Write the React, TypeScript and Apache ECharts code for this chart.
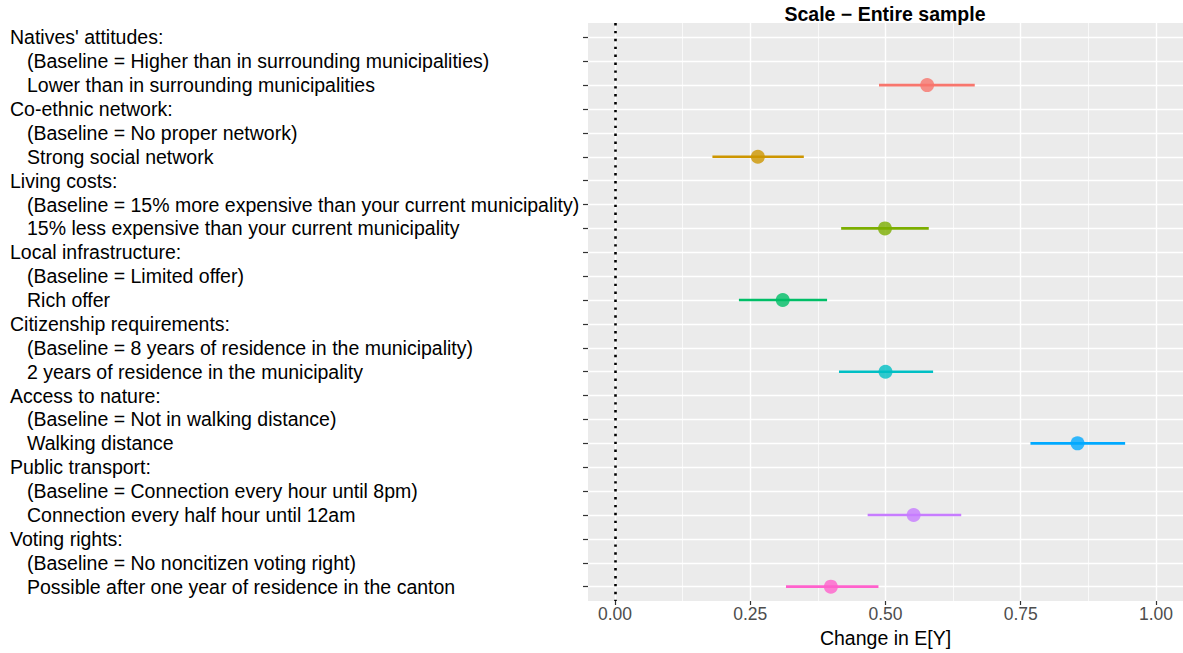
import React, { useEffect, useRef } from "react";
import * as echarts from "echarts";

const rowLabels: string[] = [
  "Natives' attitudes:",
  "(Baseline = Higher than in surrounding municipalities)",
  "Lower than in surrounding municipalities",
  "Co-ethnic network:",
  "(Baseline = No proper network)",
  "Strong social network",
  "Living costs:",
  "(Baseline = 15% more expensive than your current municipality)",
  "15% less expensive than your current municipality",
  "Local infrastructure:",
  "(Baseline = Limited offer)",
  "Rich offer",
  "Citizenship requirements:",
  "(Baseline = 8 years of residence in the municipality)",
  "2 years of residence in the municipality",
  "Access to nature:",
  "(Baseline = Not in walking distance)",
  "Walking distance",
  "Public transport:",
  "(Baseline = Connection every hour until 8pm)",
  "Connection every half hour until 12am",
  "Voting rights:",
  "(Baseline = No noncitizen voting right)",
  "Possible after one year of residence in the canton",
];

const headerLabels: string[] = [
  "Natives' attitudes:",
  "Co-ethnic network:",
  "Living costs:",
  "Local infrastructure:",
  "Citizenship requirements:",
  "Access to nature:",
  "Public transport:",
  "Voting rights:",
];

const effectLabels: string[] = [
  "Lower than in surrounding municipalities",
  "Strong social network",
  "15% less expensive than your current municipality",
  "Rich offer",
  "2 years of residence in the municipality",
  "Walking distance",
  "Connection every half hour until 12am",
  "Possible after one year of residence in the canton",
];
const estimates: number[] = [0.577, 0.264, 0.499, 0.31, 0.5, 0.855, 0.552, 0.399];
const lower: number[] = [0.488, 0.18, 0.418, 0.229, 0.414, 0.768, 0.467, 0.316];
const upper: number[] = [0.665, 0.349, 0.58, 0.392, 0.588, 0.943, 0.64, 0.487];
const colors: string[] = ["#F8766D", "#CD9600", "#7CAE00", "#00BE67", "#00BFC4", "#00A9FF", "#C77CFF", "#FF61CC"];

const xMajor: number[] = [0, 0.25, 0.5, 0.75, 1];
const xMinor: number[] = [0.125, 0.375, 0.625, 0.875];

const FONT = "'Liberation Sans', Arial, Helvetica, sans-serif";

export default function App() {
  const ref = useRef<HTMLDivElement>(null);
  useEffect(() => {
    if (!ref.current) return;
    const chart = echarts.init(ref.current, null, { renderer: "svg" });
    const rowPos = (label: string) => rowLabels.indexOf(label) + 1;
    const rowValues = rowLabels.map((_, i) => i + 1);

    const ciSeries = effectLabels.map((lab, i) => ({
      type: "line",
      xAxisIndex: 0,
      yAxisIndex: 0,
      data: [
        [lower[i], rowPos(lab)],
        [upper[i], rowPos(lab)],
      ],
      symbol: "none",
      lineStyle: { color: colors[i], width: 2.6 },
      itemStyle: { color: colors[i] },
      z: 3,
      silent: true,
    }));

    const option: any = {
      animation: false,
      textStyle: { fontFamily: FONT },
      graphic: [
        {
          type: "text",
          x: 885,
          y: 14,
          style: {
            text: "Scale \u2212 Entire sample",
            textAlign: "center",
            textVerticalAlign: "middle",
            font: `bold 19.5px ${FONT}`,
            fill: "#000",
          },
        },
      ],
      grid: {
        left: 588,
        right: 0,
        top: 23,
        bottom: 52,
        show: true,
        backgroundColor: "#EBEBEB",
        borderWidth: 0,
      },
      xAxis: [
        {
          type: "value",
          min: -0.05,
          max: 1.05,
          position: "bottom",
          axisLine: { show: true, onZero: false, lineStyle: { color: "rgba(0,0,0,0)" } },
          axisTick: {
            show: true,
            inside: false,
            length: 4,
            lineStyle: { color: "#333333", width: 1.2 },
            customValues: xMajor,
          },
          axisLabel: {
            customValues: xMajor,
            formatter: (v: number) => v.toFixed(2),
            fontSize: 17.5,
            color: "#4D4D4D",
            margin: 4,
            fontFamily: FONT,
          },
          splitLine: { show: true, lineStyle: { color: "#FFFFFF", width: 1.4 } },
          name: "Change in E[Y]",
          nameLocation: "middle",
          nameGap: 27,
          nameTextStyle: { fontSize: 19.5, color: "#000", fontFamily: FONT },
        },
        {
          type: "value",
          min: -0.05,
          max: 1.05,
          position: "bottom",
          axisLine: { show: false, onZero: false },
          axisTick: { show: false, customValues: xMinor },
          axisLabel: { show: false, customValues: xMinor },
          splitLine: { show: true, lineStyle: { color: "#FFFFFF", width: 0.7 } },
        },
      ],
      yAxis: {
        type: "value",
        inverse: true,
        min: 0.4,
        max: 24.6,
        position: "left",
        axisLine: { show: true, onZero: false, lineStyle: { color: "rgba(0,0,0,0)" } },
        axisTick: {
          show: true,
          inside: false,
          length: 5,
          lineStyle: { color: "#333333", width: 1.2 },
          customValues: rowValues,
        },
        axisLabel: {
          customValues: rowValues,
          align: "left",
          margin: 578,
          formatter: (v: number) => {
            const lab = rowLabels[Math.round(v) - 1] || "";
            return headerLabels.indexOf(lab) >= 0 ? `{h|${lab}}` : `{i|${lab}}`;
          },
          rich: {
            h: { fontSize: 19.5, color: "#000", fontFamily: FONT },
            i: { fontSize: 19.5, color: "#000", fontFamily: FONT, padding: [0, 0, 0, 17] },
          },
        },
        splitLine: { show: true, lineStyle: { color: "#FFFFFF", width: 1.4 } },
      },
      series: [
        ...ciSeries,
        {
          type: "scatter",
          xAxisIndex: 0,
          yAxisIndex: 0,
          symbol: "circle",
          symbolSize: 14,
          z: 4,
          data: effectLabels.map((lab, i) => ({
            value: [estimates[i], rowPos(lab)],
            itemStyle: { color: colors[i] },
          })),
          markLine: {
            silent: true,
            symbol: ["none", "none"],
            label: { show: false },
            lineStyle: { color: "#000", width: 2.6, type: [2.4, 5.5] },
            data: [{ xAxis: 0 }],
          },
        },
      ],
    };
    chart.setOption(option);
    return () => chart.dispose();
  }, []);
  return (
    <div
      ref={ref}
      style={{ position: "fixed", left: 0, top: 0, width: 1183, height: 653, background: "#fff" }}
    />
  );
}
